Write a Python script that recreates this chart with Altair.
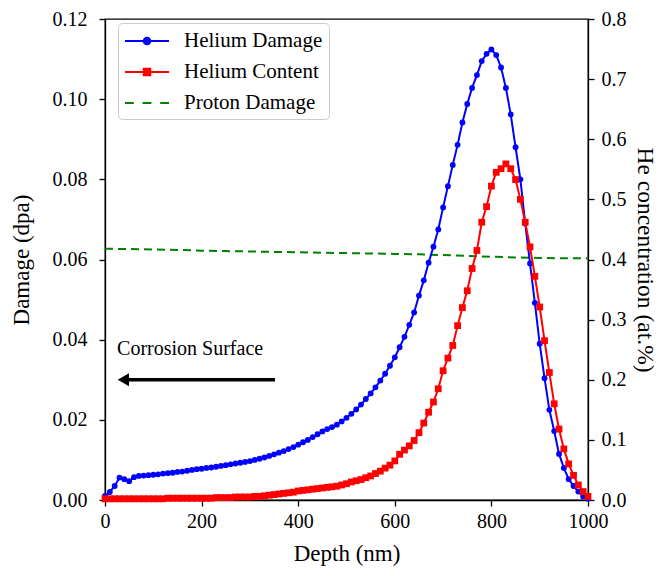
import altair as alt
import pandas as pd

FONT = "Liberation Serif"

depth = list(range(0, 1001, 10))

helium_damage = [
    0.0010, 0.0020, 0.0035, 0.0056, 0.0052, 0.0047, 0.0057, 0.0060, 0.0061, 0.0062,
    0.0063, 0.0064, 0.0066, 0.0067, 0.0068, 0.0070, 0.0071, 0.0073, 0.0075, 0.0077,
    0.0078, 0.0080, 0.0081, 0.0083, 0.0085, 0.0087, 0.0089, 0.0091, 0.0093, 0.0095,
    0.0097, 0.0100, 0.0103, 0.0106, 0.0110, 0.0114, 0.0118, 0.0122, 0.0127, 0.0132,
    0.0138, 0.0144, 0.0150, 0.0157, 0.0164, 0.0171, 0.0177, 0.0182, 0.0188, 0.0196,
    0.0205, 0.0215, 0.0226, 0.0238, 0.0252, 0.0266, 0.0281, 0.0298, 0.0315, 0.0335,
    0.0356, 0.0381, 0.0407, 0.0437, 0.0468, 0.0510, 0.0548, 0.0592, 0.0632, 0.0675,
    0.0730, 0.0783, 0.0836, 0.0886, 0.0942, 0.0988, 0.1028, 0.1060, 0.1095, 0.1113,
    0.1124, 0.1110, 0.1079, 0.1028, 0.0962, 0.0880, 0.0800, 0.0690, 0.0590, 0.0492,
    0.0390, 0.0304, 0.0225, 0.0172, 0.0115, 0.0080, 0.0052, 0.0035, 0.0021, 0.0009,
    0.0003,
]

helium_content = [
    0.002, 0.002, 0.002, 0.002, 0.002, 0.002, 0.002, 0.002, 0.002, 0.002, 0.002,
    0.002, 0.002, 0.003, 0.003, 0.003, 0.003, 0.003, 0.003, 0.003, 0.003,
    0.003, 0.003, 0.004, 0.004, 0.004, 0.004, 0.005, 0.005, 0.005, 0.005,
    0.006, 0.006, 0.007, 0.008, 0.009, 0.010, 0.011, 0.012, 0.013, 0.015,
    0.016, 0.017, 0.018, 0.019, 0.020, 0.021, 0.022, 0.023, 0.025, 0.027,
    0.030, 0.032, 0.034, 0.037, 0.040, 0.044, 0.048, 0.053, 0.058, 0.065,
    0.076, 0.083, 0.090, 0.099, 0.112, 0.128, 0.146, 0.163, 0.185, 0.215,
    0.236, 0.257, 0.290, 0.320, 0.348, 0.385, 0.415, 0.462, 0.488, 0.522,
    0.545, 0.551, 0.559, 0.551, 0.533, 0.500, 0.462, 0.421, 0.372, 0.321,
    0.265, 0.212, 0.160, 0.118, 0.085, 0.060, 0.041, 0.025, 0.014, 0.006,
]

proton_depth = [0, 50, 100, 150, 200, 250, 300, 350, 400, 450, 500,
                550, 600, 650, 700, 750, 800, 850, 900, 950, 1000]
proton_damage = [0.0627, 0.0626, 0.0625, 0.0624, 0.0622, 0.0621, 0.0620, 0.0619,
                 0.0618, 0.0617, 0.0616, 0.0615, 0.0614, 0.0613, 0.0611, 0.0609,
                 0.0607, 0.0605, 0.0604, 0.0603, 0.0603]

series_names = ["Helium Damage", "Helium Content", "Proton Damage"]
series_colors = ["#0000ff", "#ff0000", "#008000"]
# legend glyphs: line (4 units wide) with a marker in the middle; 1 unit = 11 px
legend_shapes = [
    "M-1,0H3M0.7,0A0.3,0.3,0,1,1,1.3,0A0.3,0.3,0,1,1,0.7,0Z",
    "M-1,0H3M0.7,-0.3H1.3V0.3H0.7Z",
    "M-1,0H-0.2M0.6,0H1.4M2.2,0H3",
]

arrow_x = [38, 352]
arrow_head_x = [38]
arrow_y = [0.030]
note_text = ["Corrosion Surface"]
note_x = [25]
note_y = [0.0377]

x_ticks = [0, 200, 400, 600, 800, 1000]
left_ticks = [0.0, 0.02, 0.04, 0.06, 0.08, 0.10, 0.12]
right_ticks = [0.0, 0.1, 0.2, 0.3, 0.4, 0.5, 0.6, 0.7, 0.8]

df_he = pd.DataFrame({"depth": depth, "damage": helium_damage, "content": helium_content})
df_p = pd.DataFrame({"depth": proton_depth, "damage": proton_damage})
df_arrow = pd.DataFrame({"x": [arrow_x[0]], "x2": [arrow_x[1]], "y": arrow_y})
df_head = pd.DataFrame({"x": arrow_head_x, "y": arrow_y})
df_note = pd.DataFrame({"x": note_x, "y": note_y, "t": note_text})
df_leg = pd.DataFrame({"series": series_names, "x": [500] * 3, "y": [0.05] * 3})

xscale = alt.Scale(domain=[0, 1000], nice=False)
lscale = alt.Scale(domain=[0, 0.12], nice=False)
rscale = alt.Scale(domain=[0, 0.8], nice=False)

xaxis = alt.Axis(values=x_ticks, format="d", title="Depth (nm)", labelPadding=5,
                 titlePadding=11, tickSize=6, labelFlush=False)
laxis = alt.Axis(values=left_ticks, format=".2f", title="Damage (dpa)", orient="left",
                 labelPadding=12, titlePadding=19, tickSize=6, labelFlush=False)
raxis = alt.Axis(values=right_ticks, format=".1f", title="He concentration (at.%)",
                 orient="right", labelPadding=7, titlePadding=6, tickSize=6,
                 titleFontSize=23.5, labelFlush=False)

X = alt.X("depth:Q", scale=xscale, axis=xaxis)

proton = alt.Chart(df_p).mark_line(color="#008000", strokeWidth=2, strokeDash=[8, 5]).encode(
    x=X, y=alt.Y("damage:Q", scale=lscale, axis=laxis)
)
blue_line = alt.Chart(df_he).mark_line(color="#0000ff", strokeWidth=2).encode(
    x=X, y=alt.Y("damage:Q", scale=lscale, axis=laxis)
)
blue_pts = alt.Chart(df_he).mark_circle(color="#0000ff", size=34, opacity=1).encode(
    x=X, y=alt.Y("damage:Q", scale=lscale, axis=laxis)
)
arrow = alt.Chart(df_arrow).mark_rule(color="black", strokeWidth=3.5).encode(
    x=alt.X("x:Q", scale=xscale, axis=xaxis), x2="x2:Q",
    y=alt.Y("y:Q", scale=lscale, axis=laxis)
)
head = alt.Chart(df_head).mark_point(shape="triangle-left", filled=True, color="black",
                                      size=170, opacity=1).encode(
    x=alt.X("x:Q", scale=xscale, axis=xaxis), y=alt.Y("y:Q", scale=lscale, axis=laxis)
)
note = alt.Chart(df_note).mark_text(font=FONT, fontSize=20, align="left",
                                     baseline="middle", color="black").encode(
    x=alt.X("x:Q", scale=xscale, axis=xaxis), y=alt.Y("y:Q", scale=lscale, axis=laxis),
    text="t:N"
)

legend = alt.Legend(
    title=None, orient="none", legendX=13, legendY=4,
    labelFont=FONT, labelFontSize=21, labelColor="black",
    symbolSize=484, symbolStrokeWidth=2, symbolOpacity=1,
    labelOffset=36, rowPadding=9, padding=6,
    strokeColor="#cccccc", fillColor="white", cornerRadius=4,
)
leg_layer = alt.Chart(df_leg).mark_point(filled=True, opacity=0).encode(
    x=alt.X("x:Q", scale=xscale, axis=xaxis),
    y=alt.Y("y:Q", scale=lscale, axis=laxis),
    fill=alt.Fill("series:N", scale=alt.Scale(domain=series_names, range=series_colors),
                  legend=legend, sort=series_names),
    stroke=alt.Stroke("series:N", scale=alt.Scale(domain=series_names, range=series_colors),
                      legend=legend, sort=series_names),
    shape=alt.Shape("series:N", scale=alt.Scale(domain=series_names, range=legend_shapes),
                    legend=legend, sort=series_names),
)

left = alt.layer(proton, blue_line, blue_pts, arrow, head, note, leg_layer)

red_line = alt.Chart(df_he).mark_line(color="#ff0000", strokeWidth=2).encode(
    x=X, y=alt.Y("content:Q", scale=rscale, axis=raxis)
)
red_pts = alt.Chart(df_he).mark_square(color="#ff0000", size=46, opacity=1).encode(
    x=X, y=alt.Y("content:Q", scale=rscale, axis=raxis)
)
right = alt.layer(red_line, red_pts)

chart = alt.layer(left, right).resolve_scale(
    y="independent", fill="independent", stroke="independent", shape="independent"
).properties(
    width=483, height=481,
    autosize=alt.AutoSizeParams(type="none"),
    padding={"left": 97, "top": 11, "right": 72, "bottom": 68},
).configure_view(
    stroke="black", strokeWidth=1.3
).configure_axis(
    labelFont=FONT, titleFont=FONT, labelFontSize=20, titleFontSize=23,
    labelColor="black", titleColor="black", titleFontWeight="normal",
    domainColor="black", tickColor="black", domainWidth=1.3, tickWidth=1.3,
    grid=False,
)

chart.save("out.html", embed_options={"renderer": "svg", "actions": False})
